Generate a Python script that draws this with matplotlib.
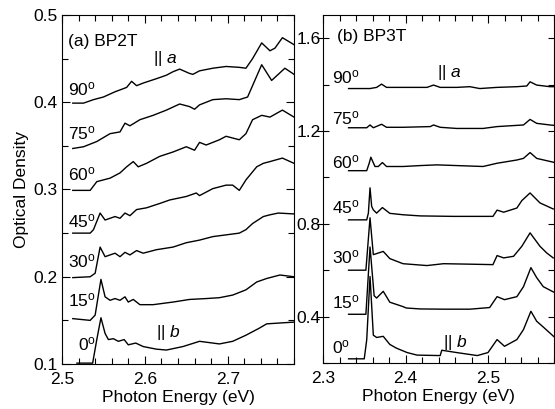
import matplotlib
matplotlib.use('Agg')
import matplotlib.pyplot as plt
from matplotlib.ticker import MultipleLocator, FormatStrFormatter

plt.rcParams['font.family'] = ['Liberation Sans', 'DejaVu Sans']
plt.rcParams['mathtext.fontset'] = 'custom'
plt.rcParams['mathtext.rm'] = 'Liberation Sans'
plt.rcParams['mathtext.it'] = 'Liberation Sans:italic'
plt.rcParams['font.size'] = 12.5

# ---- (a) BP2T : photon energy (eV) / optical density, one pair per angle ----
bp2t_e90 = [2.513, 2.526, 2.538, 2.550, 2.564, 2.578, 2.584, 2.590, 2.598, 2.614, 2.626, 2.634, 2.642,
            2.654, 2.658, 2.666, 2.682, 2.698, 2.714, 2.722, 2.730, 2.741, 2.751, 2.757, 2.766, 2.780]
bp2t_d90 = [0.399, 0.399, 0.403, 0.406, 0.412, 0.417, 0.424, 0.419, 0.422, 0.427, 0.431, 0.435, 0.438,
            0.433, 0.432, 0.436, 0.439, 0.441, 0.440, 0.439, 0.450, 0.468, 0.459, 0.462, 0.474, 0.466]
bp2t_e75 = [2.513, 2.526, 2.542, 2.558, 2.570, 2.576, 2.582, 2.594, 2.610, 2.626, 2.642, 2.654, 2.660,
            2.666, 2.682, 2.698, 2.714, 2.724, 2.741, 2.753, 2.769, 2.780]
bp2t_d75 = [0.347, 0.349, 0.355, 0.364, 0.366, 0.376, 0.373, 0.380, 0.385, 0.391, 0.398, 0.395, 0.392,
            0.397, 0.403, 0.404, 0.403, 0.406, 0.443, 0.425, 0.439, 0.432]
bp2t_e60 = [2.513, 2.534, 2.542, 2.550, 2.558, 2.570, 2.578, 2.586, 2.592, 2.602, 2.618, 2.634, 2.650,
            2.660, 2.666, 2.674, 2.690, 2.698, 2.714, 2.722, 2.730, 2.741, 2.751, 2.766, 2.780]
bp2t_d60 = [0.299, 0.299, 0.309, 0.311, 0.313, 0.319, 0.326, 0.332, 0.326, 0.330, 0.338, 0.343, 0.349,
            0.345, 0.354, 0.351, 0.357, 0.361, 0.357, 0.364, 0.380, 0.385, 0.383, 0.391, 0.383]
bp2t_e45 = [2.513, 2.534, 2.538, 2.546, 2.552, 2.558, 2.564, 2.570, 2.576, 2.582, 2.590, 2.602, 2.618,
            2.630, 2.650, 2.662, 2.666, 2.682, 2.698, 2.706, 2.714, 2.722, 2.735, 2.743, 2.751, 2.766, 2.780]
bp2t_d45 = [0.250, 0.250, 0.254, 0.273, 0.265, 0.267, 0.269, 0.267, 0.273, 0.270, 0.277, 0.279, 0.284,
            0.288, 0.292, 0.296, 0.293, 0.301, 0.305, 0.305, 0.299, 0.311, 0.326, 0.330, 0.332, 0.336, 0.330]
bp2t_e30 = [2.513, 2.534, 2.540, 2.546, 2.552, 2.558, 2.564, 2.570, 2.576, 2.582, 2.590, 2.598, 2.614,
            2.634, 2.650, 2.666, 2.682, 2.698, 2.714, 2.722, 2.730, 2.743, 2.751, 2.761, 2.780]
bp2t_d30 = [0.199, 0.200, 0.204, 0.234, 0.223, 0.225, 0.227, 0.223, 0.228, 0.225, 0.230, 0.227, 0.231,
            0.234, 0.239, 0.242, 0.246, 0.248, 0.250, 0.254, 0.261, 0.269, 0.271, 0.273, 0.272]
bp2t_e15 = [2.513, 2.534, 2.540, 2.547, 2.552, 2.558, 2.564, 2.570, 2.576, 2.580, 2.586, 2.594, 2.610,
            2.634, 2.654, 2.674, 2.690, 2.706, 2.722, 2.735, 2.747, 2.763, 2.780]
bp2t_d15 = [0.152, 0.150, 0.156, 0.197, 0.177, 0.173, 0.175, 0.173, 0.177, 0.171, 0.174, 0.168, 0.168,
            0.171, 0.174, 0.175, 0.176, 0.179, 0.185, 0.194, 0.198, 0.202, 0.200]
bp2t_e0 = [2.518, 2.537, 2.542, 2.547, 2.552, 2.556, 2.562, 2.568, 2.575, 2.580, 2.589, 2.598, 2.614,
           2.626, 2.646, 2.666, 2.690, 2.706, 2.722, 2.738, 2.747, 2.763, 2.780]
bp2t_d0 = [0.101, 0.101, 0.128, 0.153, 0.135, 0.128, 0.129, 0.126, 0.128, 0.122, 0.124, 0.120, 0.117,
           0.116, 0.120, 0.126, 0.123, 0.126, 0.133, 0.141, 0.146, 0.147, 0.148]

# ---- (b) BP3T ----
bp3t_e90 = [2.331, 2.357, 2.365, 2.371, 2.377, 2.397, 2.426, 2.434, 2.442, 2.462, 2.478, 2.490, 2.511,
            2.535, 2.547, 2.551, 2.559, 2.575, 2.581]
bp3t_d90 = [1.383, 1.383, 1.388, 1.402, 1.388, 1.388, 1.388, 1.398, 1.388, 1.388, 1.391, 1.383, 1.388,
            1.391, 1.394, 1.412, 1.398, 1.391, 1.391]
bp3t_e75 = [2.331, 2.353, 2.357, 2.361, 2.371, 2.377, 2.397, 2.430, 2.434, 2.442, 2.462, 2.494, 2.511,
            2.543, 2.551, 2.559, 2.575, 2.581]
bp3t_d75 = [1.214, 1.214, 1.226, 1.214, 1.229, 1.216, 1.216, 1.219, 1.226, 1.216, 1.211, 1.211, 1.219,
            1.226, 1.250, 1.233, 1.226, 1.224]
bp3t_e60 = [2.331, 2.353, 2.356, 2.358, 2.363, 2.367, 2.372, 2.377, 2.397, 2.418, 2.438, 2.462, 2.494,
            2.511, 2.535, 2.543, 2.551, 2.559, 2.581]
bp3t_d60 = [1.029, 1.029, 1.061, 1.087, 1.047, 1.047, 1.064, 1.047, 1.047, 1.051, 1.054, 1.051, 1.047,
            1.061, 1.075, 1.082, 1.107, 1.082, 1.064]
bp3t_e45 = [2.331, 2.353, 2.355, 2.357, 2.359, 2.361, 2.365, 2.372, 2.381, 2.397, 2.418, 2.458, 2.506,
            2.511, 2.519, 2.535, 2.541, 2.551, 2.563, 2.579]
bp3t_d45 = [0.817, 0.817, 0.846, 0.955, 0.875, 0.860, 0.846, 0.870, 0.845, 0.839, 0.834, 0.832, 0.832,
            0.859, 0.850, 0.868, 0.900, 0.933, 0.890, 0.864]
bp3t_e30 = [2.331, 2.352, 2.357, 2.361, 2.373, 2.381, 2.397, 2.426, 2.446, 2.478, 2.506, 2.511, 2.519,
            2.531, 2.541, 2.551, 2.557, 2.563, 2.571, 2.579]
bp3t_d30 = [0.600, 0.600, 0.826, 0.667, 0.681, 0.650, 0.628, 0.620, 0.628, 0.626, 0.624, 0.663, 0.653,
            0.660, 0.703, 0.761, 0.732, 0.703, 0.675, 0.653]
bp3t_e15 = [2.331, 2.352, 2.357, 2.362, 2.365, 2.373, 2.381, 2.397, 2.401, 2.418, 2.446, 2.478, 2.502,
            2.511, 2.520, 2.535, 2.543, 2.552, 2.559, 2.567, 2.581]
bp3t_d15 = [0.410, 0.410, 0.700, 0.490, 0.480, 0.509, 0.462, 0.443, 0.437, 0.433, 0.432, 0.432, 0.439,
            0.486, 0.473, 0.486, 0.529, 0.611, 0.568, 0.529, 0.503]
bp3t_e0 = [2.331, 2.350, 2.353, 2.357, 2.361, 2.365, 2.373, 2.381, 2.389, 2.402, 2.414, 2.442, 2.444,
           2.462, 2.487, 2.500, 2.511, 2.520, 2.535, 2.543, 2.552, 2.559, 2.567, 2.581]
bp3t_d0 = [0.218, 0.218, 0.300, 0.573, 0.320, 0.310, 0.315, 0.280, 0.264, 0.245, 0.234, 0.232, 0.255,
           0.245, 0.232, 0.245, 0.301, 0.272, 0.301, 0.344, 0.423, 0.380, 0.355, 0.310]

angles = ['90', '75', '60', '45', '30', '15', '0']
bp2t_label_y = [0.408, 0.357, 0.311, 0.257, 0.211, 0.166, 0.116]
bp3t_label_y = [1.405, 1.230, 1.041, 0.845, 0.630, 0.437, 0.243]

bp2t = [(bp2t_e90, bp2t_d90), (bp2t_e75, bp2t_d75), (bp2t_e60, bp2t_d60), (bp2t_e45, bp2t_d45),
        (bp2t_e30, bp2t_d30), (bp2t_e15, bp2t_d15), (bp2t_e0, bp2t_d0)]
bp3t = [(bp3t_e90, bp3t_d90), (bp3t_e75, bp3t_d75), (bp3t_e60, bp3t_d60), (bp3t_e45, bp3t_d45),
        (bp3t_e30, bp3t_d30), (bp3t_e15, bp3t_d15), (bp3t_e0, bp3t_d0)]

fig = plt.figure(figsize=(5.55, 4.09), dpi=100)
ax1 = fig.add_axes([62 / 555, 45 / 409, 232 / 555, 349 / 409])
ax2 = fig.add_axes([323 / 555, 46 / 409, 231 / 555, 348 / 409])

for e, d in bp2t:
    ax1.plot(e, d, color='black', lw=1.0)
for e, d in bp3t:
    ax2.plot(e, d, color='black', lw=1.0)

# angle labels
for a, y in zip(angles, bp2t_label_y):
    ax1.text(2.541, y, a + r'$^{\rm o}$', ha='right', va='baseline')
for a, y in zip(angles, bp3t_label_y):
    ax2.text(2.311, y, a + r'$^{\rm o}$', ha='left', va='baseline')

ax1.text(2.507, 0.464, '(a) BP2T', va='baseline')
ax2.text(2.317, 1.588, '(b) BP3T', va='baseline')
ax1.text(2.610, 0.445, r'|| $a$', va='baseline')
ax1.text(2.614, 0.131, r'|| $b$', va='baseline')
ax2.text(2.438, 1.434, r'|| $a$', va='baseline')
ax2.text(2.445, 0.267, r'|| $b$', va='baseline')

# axes
ax1.set_xlim(2.5, 2.78)
ax1.set_ylim(0.1, 0.5)
ax1.xaxis.set_major_locator(MultipleLocator(0.1))
ax1.xaxis.set_minor_locator(MultipleLocator(0.02))
ax1.yaxis.set_major_locator(MultipleLocator(0.1))
ax1.yaxis.set_minor_locator(MultipleLocator(0.05))
ax1.xaxis.set_major_formatter(FormatStrFormatter('%.1f'))
ax1.yaxis.set_major_formatter(FormatStrFormatter('%.1f'))
ax1.tick_params(which='both', direction='in', top=True, right=True)
ax1.tick_params(which='major', length=6, width=0.8)
ax1.tick_params(which='minor', length=4, width=0.8)
ax1.tick_params(axis='x', which='major', pad=6)
ax1.tick_params(axis='y', which='major', pad=3)
ax1.set_xlabel('Photon Energy (eV)', labelpad=2)

ax2.set_xlim(2.3, 2.58)
ax2.set_ylim(0.2, 1.7)
ax2.xaxis.set_major_locator(MultipleLocator(0.1))
ax2.xaxis.set_minor_locator(MultipleLocator(0.02))
ax2.yaxis.set_major_locator(MultipleLocator(0.4))
ax2.yaxis.set_minor_locator(MultipleLocator(0.2))
ax2.xaxis.set_major_formatter(FormatStrFormatter('%.1f'))
ax2.yaxis.set_major_formatter(FormatStrFormatter('%.1f'))
ax2.tick_params(which='both', direction='in', top=True, right=True)
ax2.tick_params(which='major', length=6, width=0.8)
ax2.tick_params(which='minor', length=4, width=0.8)
ax2.tick_params(axis='x', which='major', pad=6)
ax2.tick_params(axis='y', which='major', direction='inout', length=8, pad=-2.5)
ax2.set_xlabel('Photon Energy (eV)', labelpad=2)

fig.text(22 / 555, 1 - 189.5 / 409, 'Optical Density', rotation=90, ha='center', va='center')

fig.savefig('out.png', dpi=100)
